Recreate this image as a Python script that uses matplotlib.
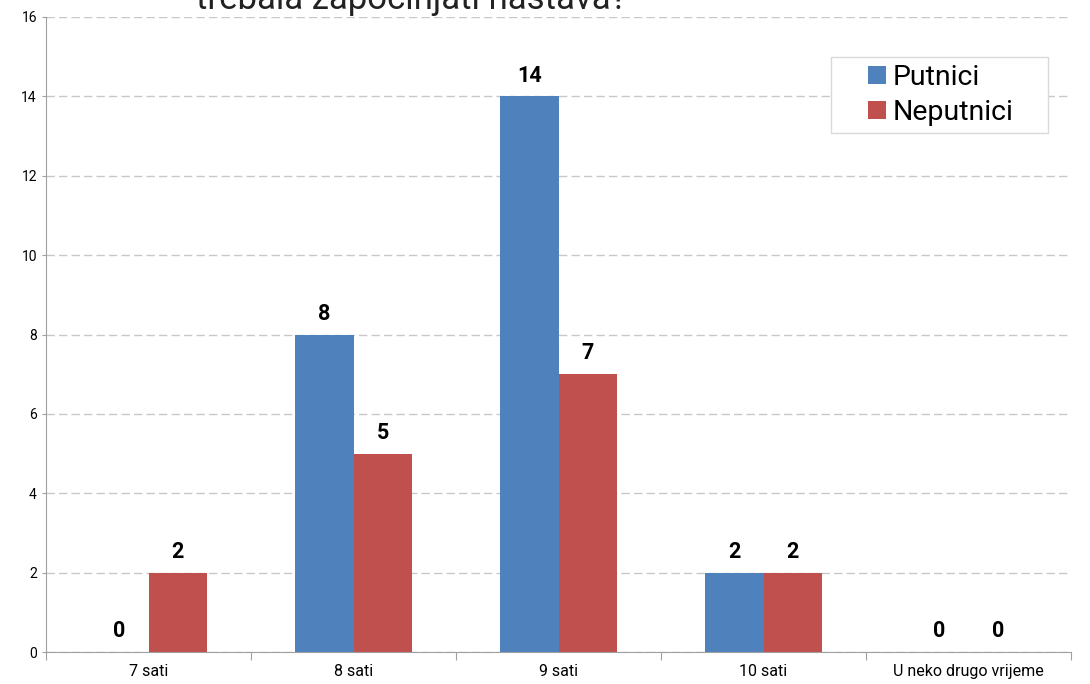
import matplotlib.pyplot as plt
from matplotlib.patches import Rectangle
import numpy as np

plt.rcParams['font.family'] = ['Roboto', 'DejaVu Sans']

kategorije = ["7 sati", "8 sati", "9 sati", "10 sati", "U neko drugo vrijeme"]
putnici = [0, 8, 14, 2, 0]
neputnici = [2, 5, 7, 2, 0]
naslov = "trebala započinjati nastava?"

plava = "#4F81BD"
crvena = "#C0504D"

W, H = 1090, 684
fig = plt.figure(figsize=(W / 100, H / 100), dpi=100)
ax = fig.add_axes([46 / W, 32 / H, 1025 / W, 635 / H])

x = np.arange(len(kategorije))
w = 0.285
b1 = ax.bar(x - w / 2, putnici, w, color=plava, label="Putnici")
b2 = ax.bar(x + w / 2, neputnici, w, color=crvena, label="Neputnici")

for bars in (b1, b2):
    for r in bars:
        ax.annotate(f"{int(r.get_height())}", (r.get_x() + r.get_width() / 2, r.get_height()),
                    xytext=(0, 7), textcoords="offset points", ha="center", va="bottom",
                    fontsize=15.5, fontweight="bold", color="black")

ax.set_xlim(-0.5, len(kategorije) - 0.5)
ax.set_ylim(0, 16)
ax.set_yticks(range(0, 17, 2))
ax.yaxis.grid(True, color="#c8c8c8", linestyle=(0, (6, 3)), linewidth=1)
ax.set_axisbelow(True)

# granice kategorija kao glavne oznake, nazivi na sredini
ax.set_xticks(np.arange(-0.5, len(kategorije)), labels=[])
ax.set_xticks(x, labels=kategorije, minor=True)
ax.tick_params(axis="x", which="minor", length=0, labelsize=11.5, pad=8.5)
ax.tick_params(axis="x", which="major", length=6, color="#a0a0a0")
ax.tick_params(axis="y", length=3, color="#a0a0a0", labelsize=10)

for s in ("top", "right"):
    ax.spines[s].set_visible(False)
for s in ("left", "bottom"):
    ax.spines[s].set_color("#a0a0a0")

# okvir legende (bijeli, široki razmak oko teksta)
fig.add_artist(Rectangle((831 / W, 1 - 133 / H), 217 / W, 76 / H, transform=fig.transFigure,
                         facecolor="white", edgecolor="#d9d9d9", linewidth=1, zorder=4))
leg = fig.legend(handles=[b1, b2], loc="center", bbox_to_anchor=(941 / W, 1 - 95 / H),
                 fontsize=20.5, frameon=False, handlelength=0.6, handleheight=0.6,
                 handletextpad=0.25, borderpad=0, labelspacing=0.3)
leg.set_zorder(5)

fig.text(412 / W, (H - 9) / H, naslov, ha="center", va="baseline", fontsize=25,
         color="#222222")

fig.savefig("out.png", dpi=100)
